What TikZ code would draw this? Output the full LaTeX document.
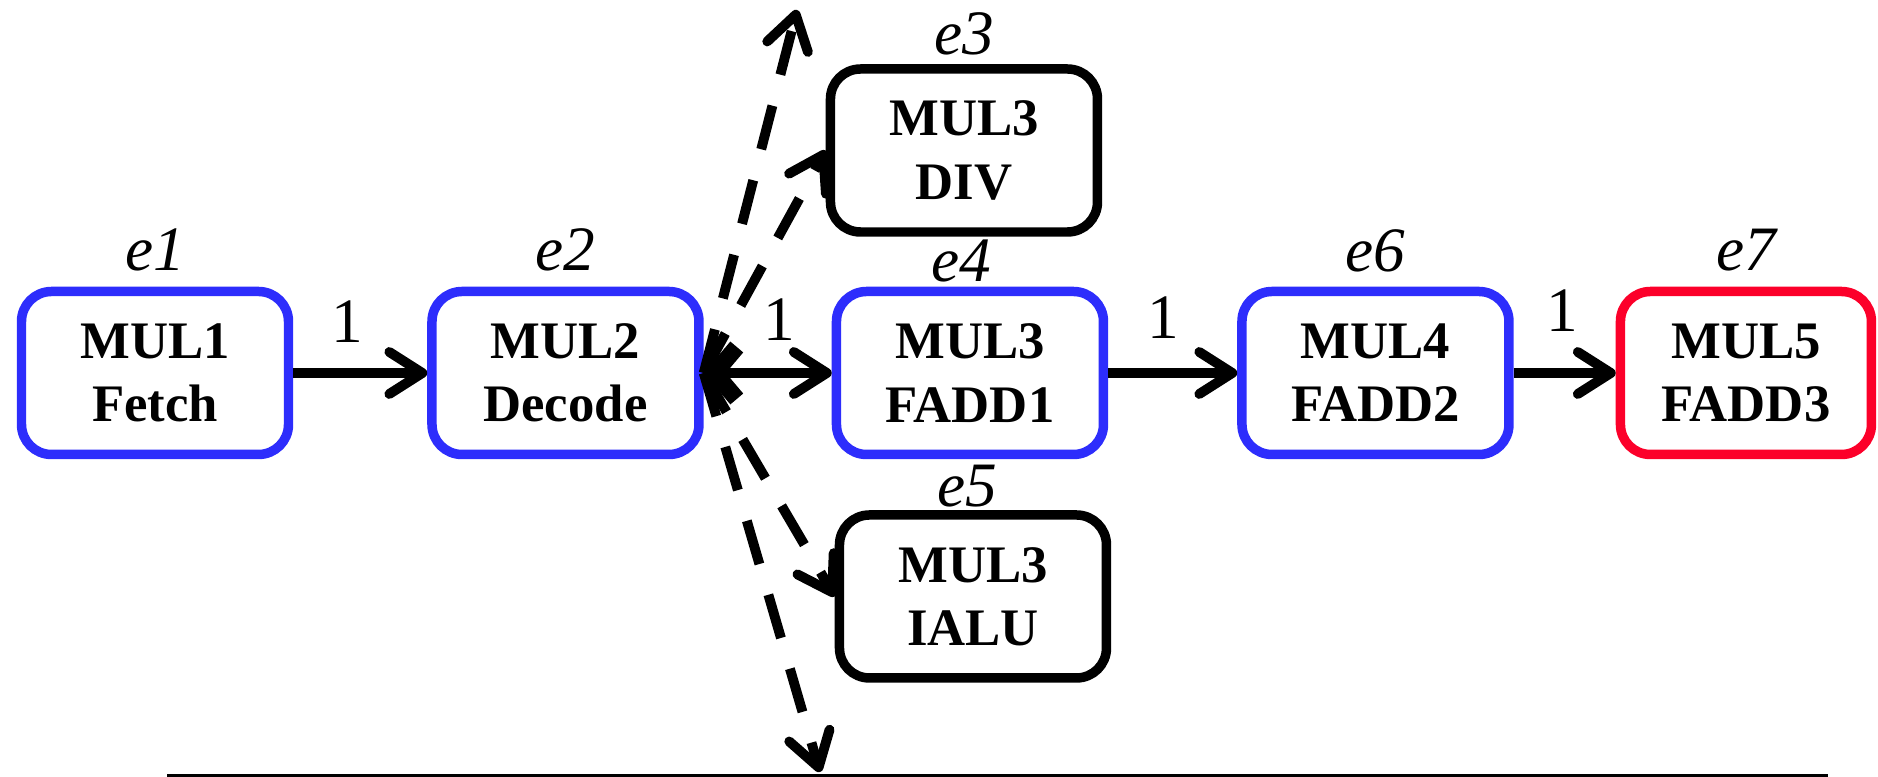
\documentclass[tikz,border=0pt]{standalone}
\usepackage{fontspec}
\setmainfont{Liberation Serif}
\usetikzlibrary{positioning,arrows.meta}

\definecolor{stageblue}{RGB}{45,45,252}
\definecolor{stagered}{RGB}{252,0,42}

\begin{document}
\begin{tikzpicture}[
    stage/.style={
        draw,
        line width=2.7pt,
        rounded corners=0.3cm,
        fill=white,
        minimum width=2.67cm,
        minimum height=1.63cm,
        align=center,
        inner sep=2pt,
        font=\fontsize{15}{18}\selectfont\bfseries
    },
    pipe/.style={stage, draw=stageblue},
    endstage/.style={stage, draw=stagered, minimum width=2.51cm},
    unit/.style={stage, draw=black},
    tag/.style={inner sep=0pt, font=\fontsize{18}{21}\selectfont\itshape},
    lat/.style={inner sep=0pt, font=\fontsize{18}{21}\selectfont},
    arrow/.style={-{Straight Barb[round, length=3.3mm, width=4.2mm]}, line width=2.8pt},
    issue/.style={arrow, dash pattern=on 4.5mm off 3.2mm},
    twoway/.style={
        {Straight Barb[line width=4.8pt, length=2.2mm, width=5.2mm]}-{Straight Barb[round, length=3.3mm, width=4.2mm]},
        line width=2.8pt
    }
]
\useasboundingbox (0,0) rectangle (18.78,7.77);

% ============================================================
% PIPELINE STAGES
% ============================================================
\node[pipe] (fetch) at (1.55,4.04) {MUL1\\Fetch};
\node[pipe, right=1.34cm of fetch] (decode) {MUL2\\Decode};
\node[pipe, right=1.28cm of decode] (fadd1) {MUL3\\FADD1};
\node[pipe, right=1.29cm of fadd1] (fadd2) {MUL4\\FADD2};
\node[endstage, right=1.02cm of fadd2] (fadd3) {MUL5\\FADD3};

\node[unit, above=0.5cm of fadd1, xshift=-0.06cm] (div) {MUL3\\DIV};
\node[unit, below=0.51cm of fadd1, xshift=0.03cm] (ialu) {MUL3\\IALU};

% ============================================================
% TAGS
% ============================================================
\node[tag, above=0.15cm of fetch] (tfetch) {e1};
\node[tag, above=0.15cm of decode] (tdecode) {e2};
\node[tag, above=0.08cm of div] (tdiv) {e3};
\node[tag, above=0.04cm of fadd1, xshift=-0.09cm] (tfadd1) {e4};
\node[tag, above=0.02cm of ialu, xshift=-0.06cm] (tialu) {e5};
\node[tag, above=0.14cm of fadd2] (tfadd2) {e6};
\node[tag, above=0.15cm of fadd3] (tfadd3) {e7};

% ============================================================
% EDGES
% ============================================================
\draw[arrow] (fetch) -- node[lat, above=0.26cm, pos=0.4] (w12) {1} (decode);
\draw[twoway] (decode) -- node[lat, above=0.28cm, pos=0.59] (w24) {1} (fadd1);
\draw[arrow] (fadd1) -- node[lat, above=0.3cm, pos=0.43] (w46) {1} (fadd2);
\draw[arrow] (fadd2) -- node[lat, above=0.37cm, pos=0.48] (w67) {1} (fadd3);

\coordinate (upend) at (7.97,7.67);
\coordinate (downend) at (8.20,0.05);

\draw[issue] (decode.east) -- (upend);
\draw[issue] (decode.east) -- (div.west);
\draw[issue] (decode.east) -- (ialu.west);
\draw[issue] (decode.east) -- (downend);

% bottom rule
\coordinate (ruleL) at (1.67,0.015);
\coordinate (ruleR) at (18.28,0.015);
\draw[line width=0.8pt] (ruleL) -- (ruleR);

\end{tikzpicture}
\end{document}
